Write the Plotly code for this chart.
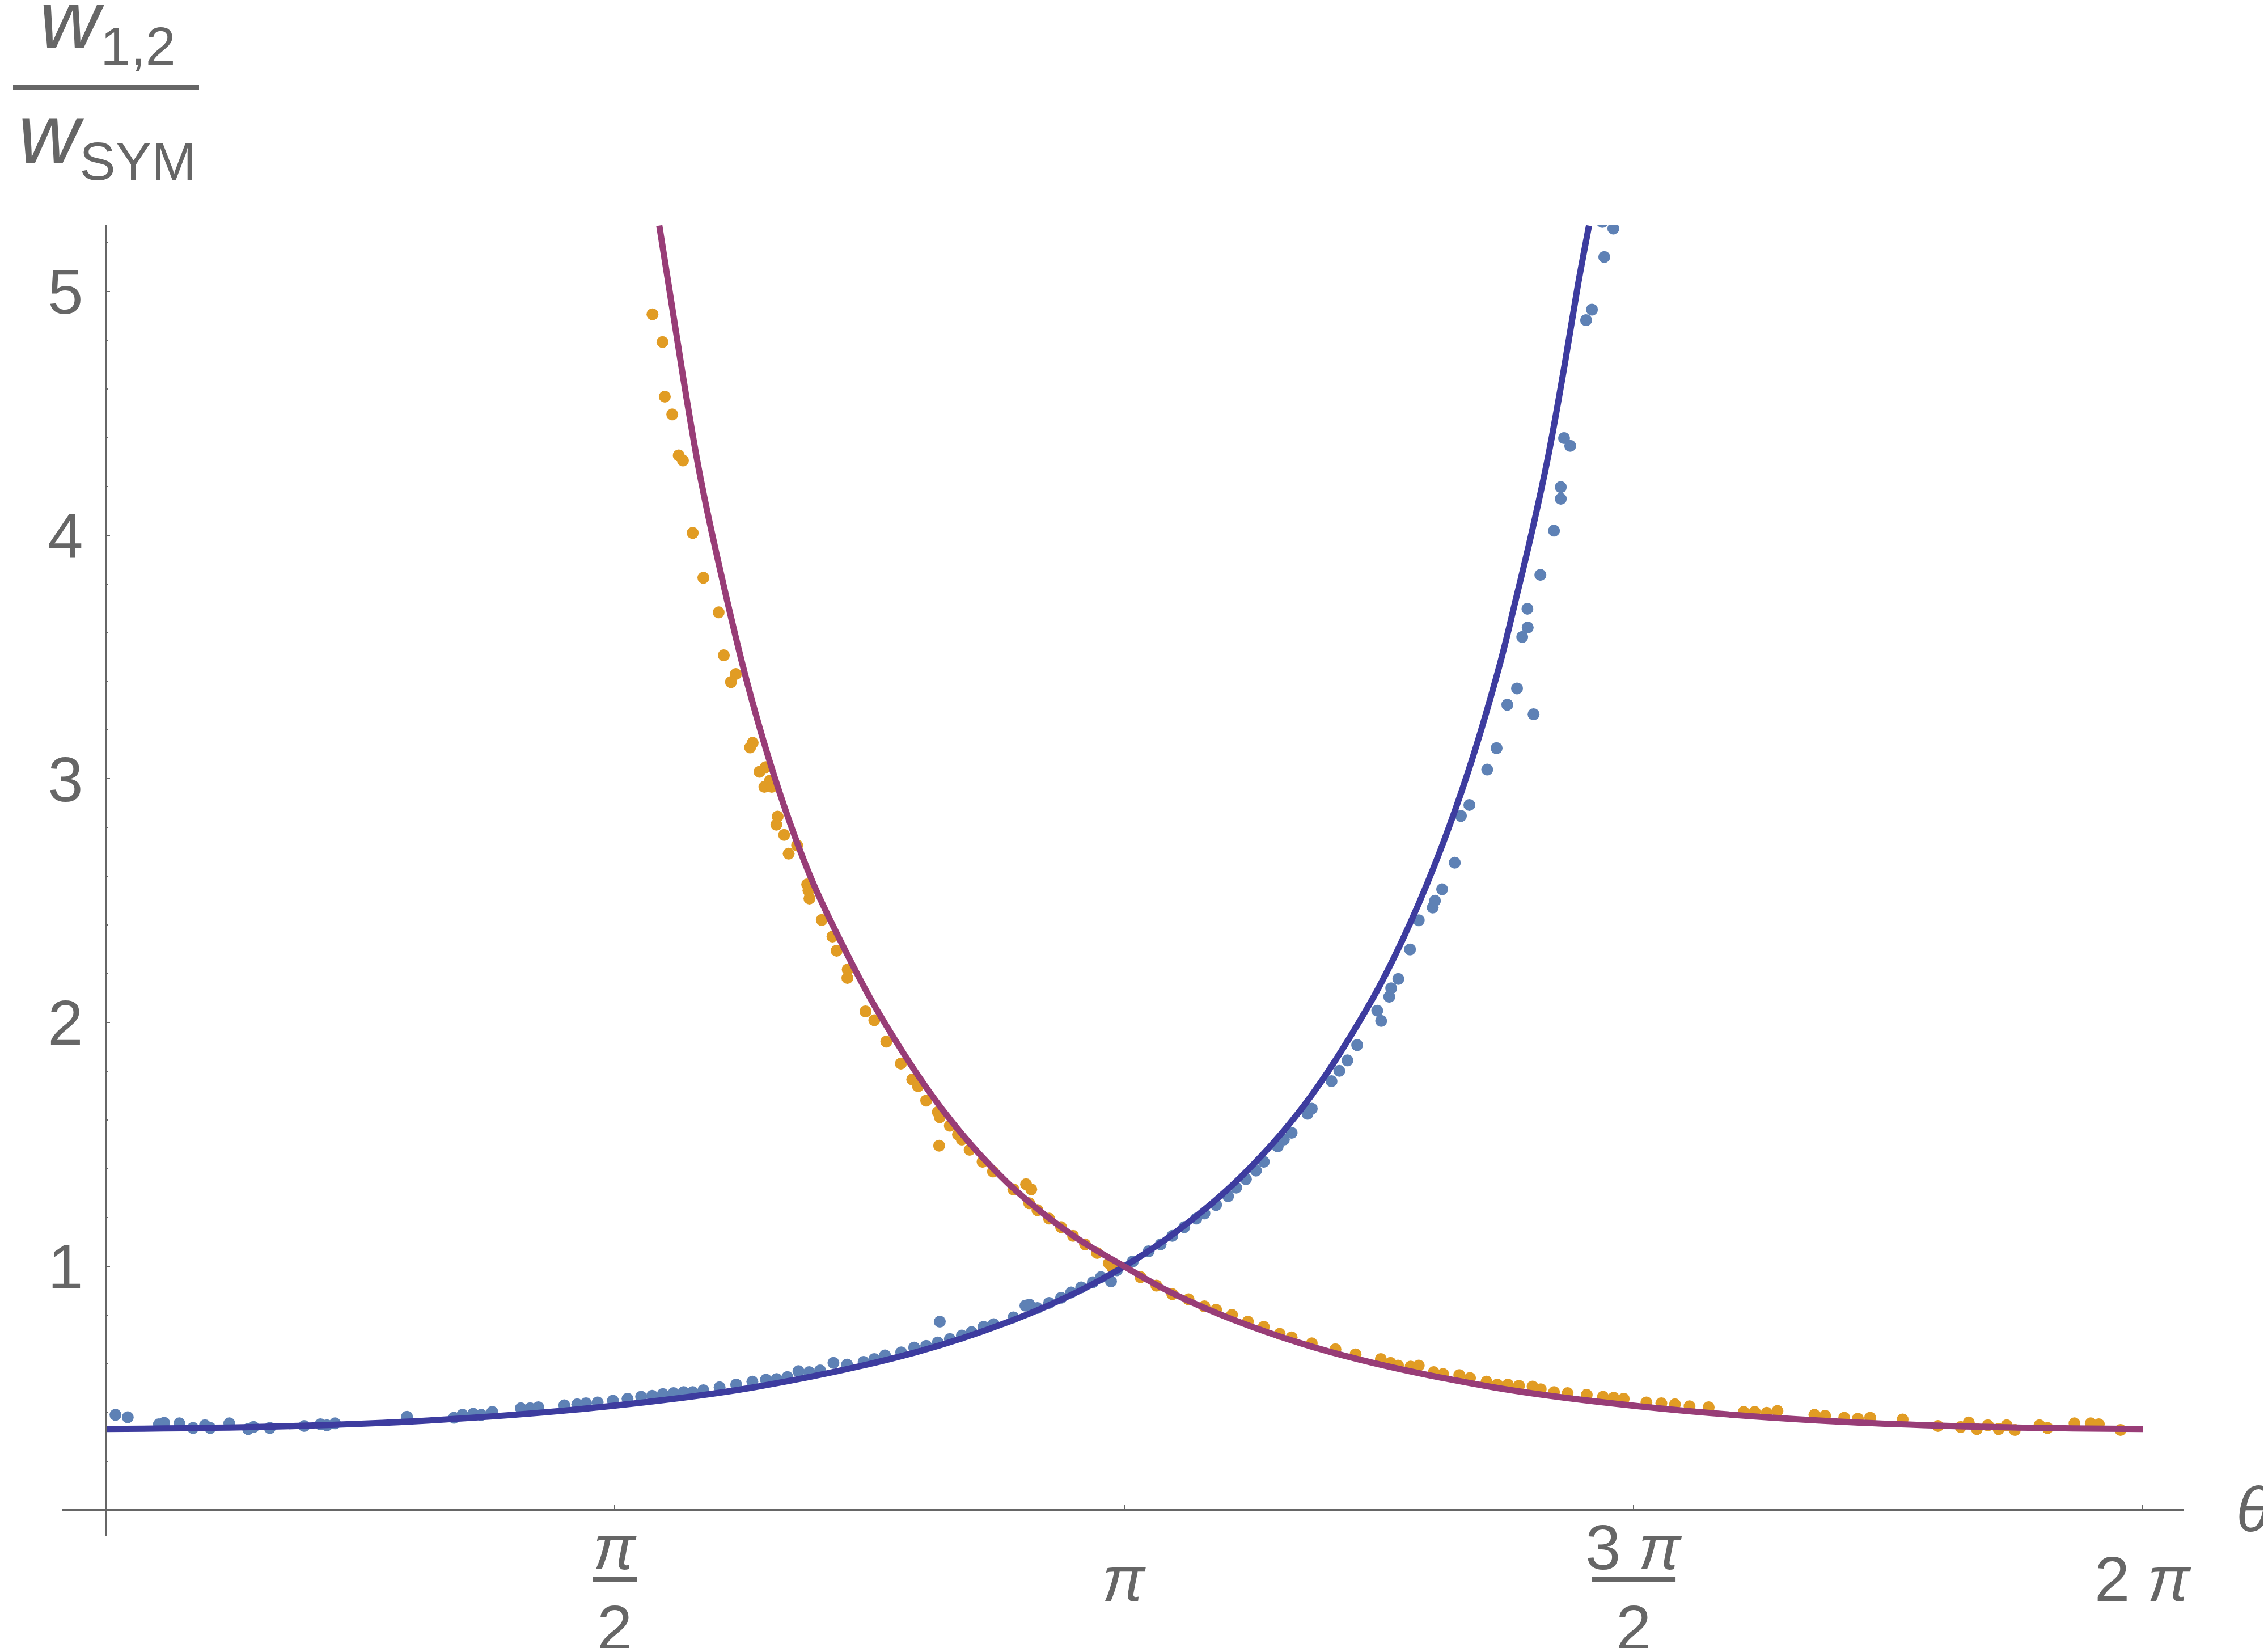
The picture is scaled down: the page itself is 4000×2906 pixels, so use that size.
import math
import plotly.graph_objects as go

PI = math.pi

# ---------------- data ----------------
# measured points, w1/wSYM (blue)
blue_theta = [0.031, 0.069, 0.165, 0.181, 0.228, 0.270, 0.307, 0.323, 0.382, 0.440, 0.457, 0.507,
              0.613, 0.663, 0.683, 0.708, 0.930, 1.075, 1.101, 1.134, 1.159, 1.193, 1.281, 1.310,
              1.335, 1.415, 1.455, 1.482, 1.518, 1.565, 1.610, 1.652, 1.686, 1.719, 1.752, 1.783,
              1.811, 1.844, 1.894, 1.945, 1.995, 2.037, 2.070, 2.103, 2.137, 2.170, 2.204, 2.245,
              2.287, 2.338, 2.371, 2.404, 2.454, 2.494, 2.531, 2.567, 2.573, 2.604, 2.641, 2.671,
              2.708, 2.739, 2.800, 2.837, 2.849, 2.874, 2.910, 2.947, 2.978, 3.009, 3.045, 3.070,
              3.101, 3.119, 3.168, 3.217, 3.254, 3.290, 3.327, 3.364, 3.389, 3.425, 3.462, 3.487,
              3.517, 3.548, 3.572, 3.615, 3.634, 3.658, 3.707, 3.720, 3.781, 3.805, 3.830, 3.860,
              3.922, 3.934, 3.959, 3.965, 3.987, 4.023, 4.050, 4.093, 4.100, 4.122, 4.161, 4.180,
              4.206, 4.261, 4.290, 4.323, 4.353, 4.404, 4.369, 4.386, 4.385, 4.425, 4.467, 4.488,
              4.488, 4.498, 4.517, 4.566, 4.584, 4.622, 4.650, 4.616]
blue_val = [0.391, 0.381, 0.352, 0.358, 0.356, 0.337, 0.348, 0.337, 0.356, 0.333, 0.341, 0.337,
            0.345, 0.352, 0.348, 0.356, 0.383, 0.379, 0.391, 0.395, 0.391, 0.403, 0.418, 0.418,
            0.422, 0.430, 0.434, 0.438, 0.442, 0.449, 0.457, 0.465, 0.469, 0.476, 0.480, 0.484,
            0.484, 0.492, 0.504, 0.515, 0.527, 0.535, 0.538, 0.546, 0.570, 0.566, 0.573, 0.604,
            0.597, 0.608, 0.620, 0.635, 0.647, 0.667, 0.674, 0.688, 0.773, 0.702, 0.716, 0.730,
            0.752, 0.763, 0.791, 0.839, 0.843, 0.829, 0.850, 0.871, 0.893, 0.914, 0.935, 0.956,
            0.938, 0.984, 1.020, 1.062, 1.090, 1.125, 1.161, 1.196, 1.217, 1.252, 1.288, 1.323,
            1.358, 1.393, 1.429, 1.492, 1.520, 1.548, 1.626, 1.647, 1.760, 1.802, 1.845, 1.908,
            2.049, 2.007, 2.106, 2.141, 2.179, 2.300, 2.420, 2.472, 2.500, 2.547, 2.656, 2.848,
            2.893, 3.038, 3.126, 3.304, 3.371, 3.265, 3.582, 3.621, 3.698, 3.837, 4.018, 4.149,
            4.197, 4.398, 4.366, 4.882, 4.925, 5.141, 5.258, 5.285]

# measured points, w2/wSYM (orange)
orange_theta = [1.687, 1.718, 1.725, 1.748, 1.768, 1.781, 1.811, 1.844, 1.891, 1.907, 1.944, 1.929,
                1.996, 1.988, 2.036, 2.017, 2.049, 2.032, 2.055, 2.073, 2.069, 2.093, 2.107, 2.133,
                2.164, 2.168, 2.171, 2.209, 2.242, 2.255, 2.289, 2.288, 2.344, 2.371, 2.408, 2.453,
                2.488, 2.506, 2.531, 2.567, 2.573, 2.604, 2.629, 2.641, 2.665, 2.571, 2.705, 2.737,
                2.800, 2.839, 2.855, 2.849, 2.874, 2.910, 2.947, 2.984, 3.021, 3.058, 3.094, 3.107,
                3.192, 3.241, 3.290, 3.340, 3.389, 3.425, 3.474, 3.523, 3.572, 3.621, 3.658, 3.720,
                3.793, 3.855, 3.933, 3.963, 3.986, 4.025, 4.050, 4.096, 4.125, 4.175, 4.208, 4.259,
                4.292, 4.325, 4.359, 4.401, 4.426, 4.467, 4.509, 4.568, 4.618, 4.651, 4.682, 4.752,
                4.798, 4.840, 4.885, 4.944, 5.052, 5.086, 5.123, 5.156, 5.270, 5.303, 5.362, 5.404,
                5.442, 5.542, 5.651, 5.721, 5.746, 5.771, 5.805, 5.838, 5.863, 5.888, 5.964, 5.989,
                6.072, 6.122, 6.147, 6.214]
orange_val = [4.906, 4.792, 4.568, 4.495, 4.327, 4.306, 4.009, 3.825, 3.683, 3.507, 3.430, 3.397,
              3.148, 3.129, 3.048, 3.029, 2.992, 2.967, 2.967, 2.845, 2.812, 2.770, 2.693, 2.727,
              2.567, 2.542, 2.509, 2.421, 2.353, 2.295, 2.218, 2.183, 2.046, 2.010, 1.922, 1.832,
              1.767, 1.739, 1.680, 1.633, 1.612, 1.577, 1.541, 1.520, 1.478, 1.495, 1.429, 1.389,
              1.316, 1.337, 1.316, 1.259, 1.231, 1.196, 1.161, 1.125, 1.090, 1.055, 1.013, 0.991,
              0.956, 0.921, 0.886, 0.865, 0.836, 0.822, 0.801, 0.773, 0.752, 0.723, 0.709, 0.684,
              0.660, 0.639, 0.620, 0.604, 0.593, 0.589, 0.593, 0.566, 0.558, 0.554, 0.542, 0.527,
              0.515, 0.515, 0.510, 0.507, 0.496, 0.484, 0.480, 0.473, 0.465, 0.461, 0.457, 0.442,
              0.438, 0.434, 0.426, 0.422, 0.403, 0.403, 0.399, 0.407, 0.391, 0.387, 0.379, 0.375,
              0.379, 0.372, 0.345, 0.341, 0.360, 0.333, 0.348, 0.333, 0.348, 0.329, 0.348, 0.337,
              0.356, 0.356, 0.352, 0.329]

# theory curves
blue_curve_theta = [0.0, 0.5, 1.0, 1.5, 2.0, 2.5, 2.8, 3.0, 3.1416, 3.3, 3.5, 3.7, 3.9, 4.0,
                    4.1, 4.2, 4.3, 4.35, 4.4, 4.45, 4.5, 4.54, 4.575]
blue_curve_val = [0.333, 0.342, 0.368, 0.419, 0.504, 0.648, 0.780, 0.897, 1.0, 1.14, 1.365, 1.667,
                  2.08, 2.34, 2.65, 3.02, 3.47, 3.74, 4.02, 4.33, 4.70, 5.02, 5.27]
purple_curve_theta = [1.708, 1.74, 1.78, 1.83, 1.88, 1.98, 2.08, 2.18, 2.28, 2.38, 2.58, 2.78,
                      2.98, 3.1416, 3.28, 3.48, 3.78, 4.28, 4.78, 5.28, 5.78, 6.283]
purple_curve_val = [5.27, 5.00, 4.66, 4.27, 3.95, 3.39, 2.94, 2.58, 2.30, 2.05, 1.645, 1.345,
                    1.13, 1.0, 0.897, 0.780, 0.648, 0.504, 0.419, 0.368, 0.342, 0.333]

y_tick_vals = [1, 2, 3, 4, 5]
y_tick_text = ["1", "2", "3", "4", "5"]
x_tick_vals = [PI / 2, PI, 3 * PI / 2, 2 * PI]
x_single_labels = [(PI, "<i>π</i>"), (2 * PI, "2 <i>π</i>")]
x_frac_labels = [(PI / 2, "<i>π</i>", "2", 78), (3 * PI / 2, "3 <i>π</i>", "2", 148)]

# ---------------- styling / geometry ----------------
W, H = 4000, 2906
ML, MR, MT, MB = 102, 156, 388, 206
PW, PH = W - ML - MR, H - MT - MB
X_RANGE = [-0.1327, 6.41]
Y_RANGE = [-0.105, 5.274]
GRAY = "#666666"
FONT = "Liberation Sans, Arial, sans-serif"
FS = 112


def px(x):
    return (x - ML) / PW


def py(y):
    return (H - MB - y) / PH


fig = go.Figure()
fig.add_trace(go.Scatter(x=blue_theta, y=blue_val, mode="markers",
                         marker=dict(size=21, color="#5E81B5", line=dict(width=0)),
                         showlegend=False, hoverinfo="skip"))
fig.add_trace(go.Scatter(x=orange_theta, y=orange_val, mode="markers",
                         marker=dict(size=21, color="#E19C24", line=dict(width=0)),
                         showlegend=False, hoverinfo="skip"))
fig.add_trace(go.Scatter(x=blue_curve_theta, y=blue_curve_val, mode="lines",
                         line=dict(color="#3D3C9F", width=11, shape="spline", smoothing=1.0),
                         showlegend=False, hoverinfo="skip"))
fig.add_trace(go.Scatter(x=purple_curve_theta, y=purple_curve_val, mode="lines",
                         line=dict(color="#983D77", width=11, shape="spline", smoothing=1.0),
                         showlegend=False, hoverinfo="skip"))

x_pos = (0 - Y_RANGE[0]) / (Y_RANGE[1] - Y_RANGE[0])
y_pos = (0 - X_RANGE[0]) / (X_RANGE[1] - X_RANGE[0])

annotations = []
shapes = []
# x tick labels
for val, txt in x_single_labels:
    annotations.append(dict(x=val, xref="x", y=py(2776), yref="paper", text=txt,
                            showarrow=False, xanchor="center", yanchor="middle",
                            font=dict(family=FONT, size=FS, color=GRAY)))
for val, num, den, bw in x_frac_labels:
    annotations.append(dict(x=val, xref="x", y=py(2721), yref="paper", text=num,
                            showarrow=False, xanchor="center", yanchor="middle",
                            font=dict(family=FONT, size=FS, color=GRAY)))
    annotations.append(dict(x=val, xref="x", y=py(2862), yref="paper", text=den,
                            showarrow=False, xanchor="center", yanchor="middle",
                            font=dict(family=FONT, size=FS, color=GRAY)))
    shapes.append(dict(type="line", xref="x", xsizemode="pixel", xanchor=val,
                       x0=-bw / 2, x1=bw / 2, yref="paper", y0=py(2777), y1=py(2777),
                       line=dict(color=GRAY, width=8)))
# theta axis label
annotations.append(dict(x=px(3934), xref="paper", y=py(2653), yref="paper",
                        text="<i>θ</i>", showarrow=False, xanchor="left", yanchor="middle",
                        font=dict(family=FONT, size=FS, color=GRAY)))
# vertical axis label (fraction)
annotations.append(dict(x=px(181), xref="paper", y=py(34), yref="paper",
                        text="<i><span style='font-size:150px'>w</span></i><sub>1,2</sub>",
                        showarrow=False, xanchor="center", yanchor="middle",
                        font=dict(family=FONT, size=136, color=GRAY)))
annotations.append(dict(x=px(181), xref="paper", y=py(236), yref="paper",
                        text="<i><span style='font-size:150px'>w</span></i><sub>SYM</sub>",
                        showarrow=False, xanchor="center", yanchor="middle",
                        font=dict(family=FONT, size=136, color=GRAY)))
shapes.append(dict(type="line", xref="paper", yref="paper", x0=px(15), x1=px(343),
                   y0=py(146), y1=py(146), line=dict(color=GRAY, width=8)))

fig.update_layout(
    width=W, height=H,
    margin=dict(l=ML, r=MR, t=MT, b=MB, pad=0),
    paper_bgcolor="white", plot_bgcolor="white",
    annotations=annotations, shapes=shapes,
    xaxis=dict(range=X_RANGE, anchor="free", position=x_pos, showgrid=False, zeroline=False,
               showline=True, linecolor=GRAY, linewidth=4,
               tickmode="array", tickvals=x_tick_vals, showticklabels=False,
               ticks="inside", ticklen=8, tickwidth=2, tickcolor=GRAY),
    yaxis=dict(range=Y_RANGE, anchor="free", position=y_pos, showgrid=False, zeroline=False,
               showline=True, linecolor=GRAY, linewidth=3,
               tickmode="array", tickvals=y_tick_vals, ticktext=y_tick_text,
               ticks="inside", ticklen=6, tickwidth=2, tickcolor=GRAY,
               ticklabelstandoff=16,
               tickfont=dict(family=FONT, size=FS, color=GRAY),
               minor=dict(tickmode="linear", tick0=0, dtick=0.2, ticks="inside",
                          ticklen=3, tickwidth=2, tickcolor=GRAY)),
)

fig.write_html("out.html")
